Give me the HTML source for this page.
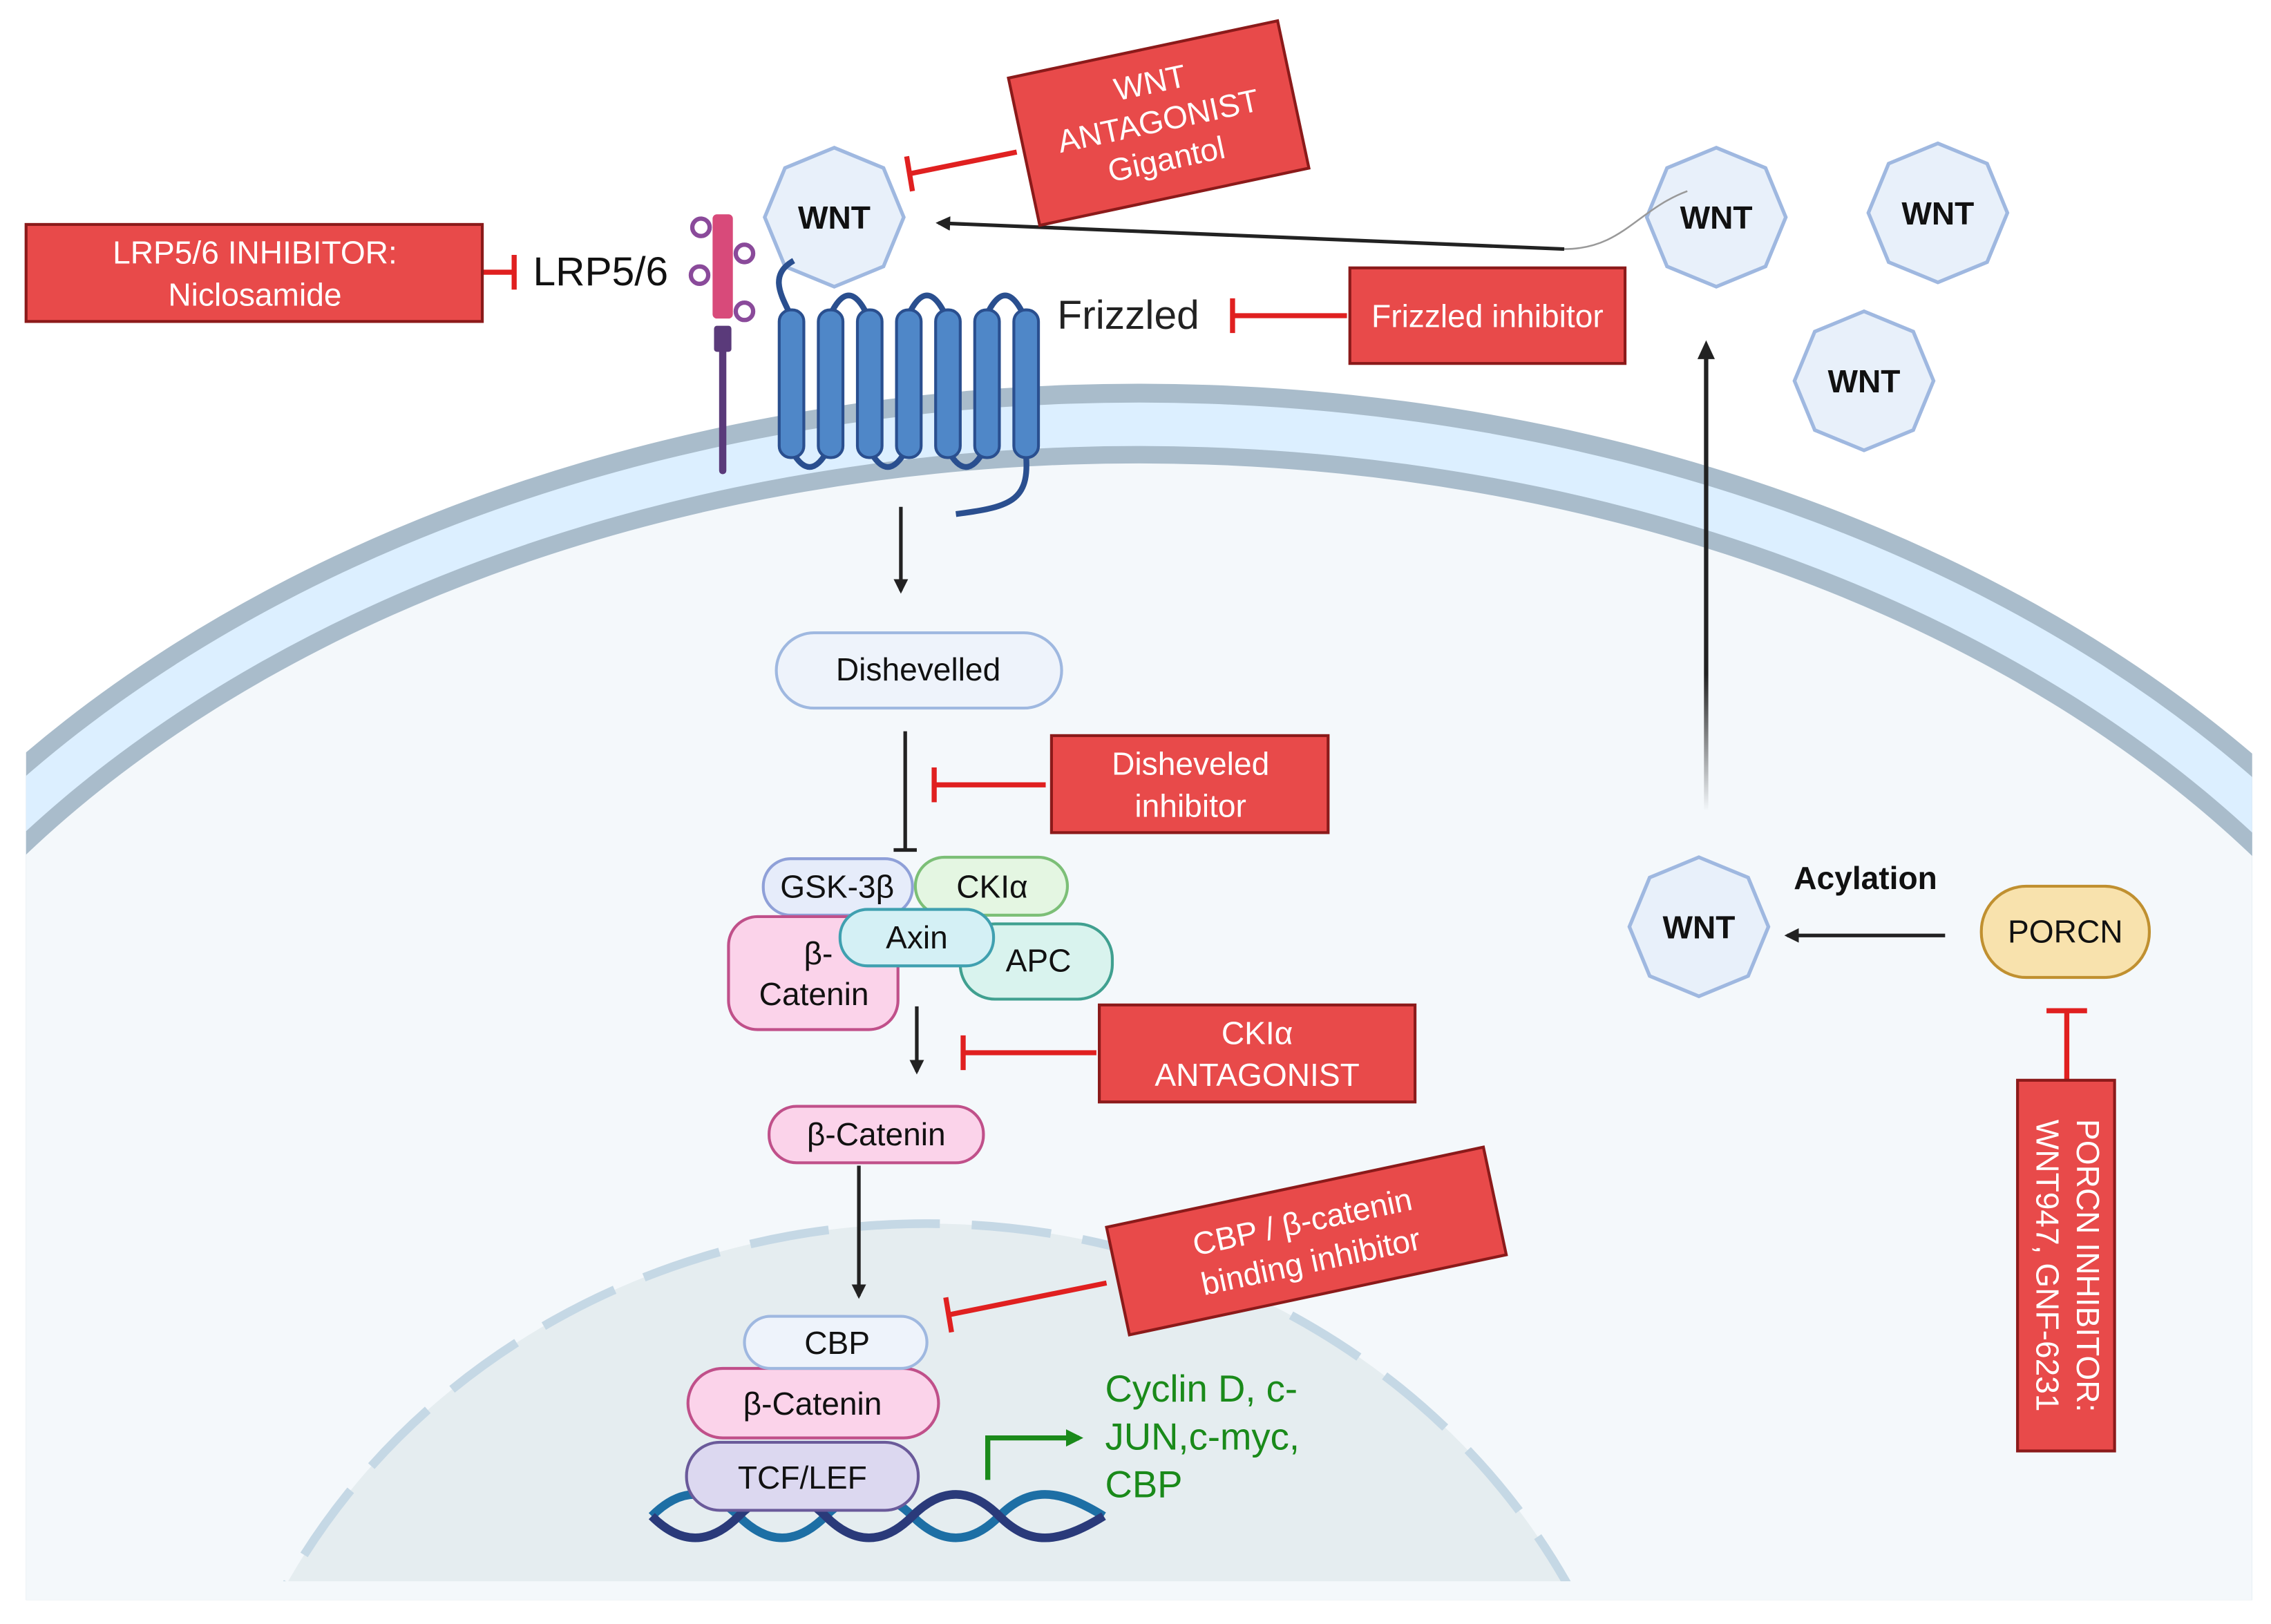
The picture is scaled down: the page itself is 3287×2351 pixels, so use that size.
<!DOCTYPE html>
<html><head><meta charset="utf-8"><style>html,body{margin:0;padding:0;background:#fff;width:3287px;height:2351px;overflow:hidden;position:relative}svg{display:block;position:absolute;left:0;top:0}</style></head>
<body>
<svg width="3287" height="2351" viewBox="0 0 1568 1121.5" preserveAspectRatio="none" xmlns="http://www.w3.org/2000/svg" font-family="Liberation Sans, sans-serif">
<defs>
<clipPath id="c"><rect x="18" y="0" width="1537" height="1105"/></clipPath>
<clipPath id="n"><rect x="0" y="0" width="1568" height="1092"/></clipPath>
<marker id="a" markerWidth="10" markerHeight="10" refX="8" refY="5" orient="auto" markerUnits="userSpaceOnUse"><path d="M0,0 L10,5 L0,10 z" fill="#222"/></marker>
<marker id="g" markerWidth="12" markerHeight="12" refX="9" refY="6" orient="auto" markerUnits="userSpaceOnUse"><path d="M0,0 L12,6 L0,12 z" fill="#1a8a1a"/></marker>
<linearGradient id="up" x1="0" y1="1" x2="0" y2="0"><stop offset="0" stop-color="#222" stop-opacity="0"/><stop offset="0.3" stop-color="#222"/></linearGradient>
</defs>
<rect width="1568" height="1121.5" fill="#fff"/>
<g clip-path="url(#c)">
<ellipse cx="786" cy="973" rx="1000" ry="708" fill="#a9bccb"/>
<ellipse cx="786" cy="973" rx="988" ry="695" fill="#dcefff"/>
<ellipse cx="786" cy="973" rx="960" ry="665" fill="#a9bccb"/>
<ellipse cx="786" cy="973" rx="948" ry="653" fill="#f4f8fb"/>
</g>
<g clip-path="url(#n)">
<ellipse cx="640" cy="1312" rx="500" ry="467" fill="#e5edf0" stroke="#c5d8e5" stroke-width="6" stroke-dasharray="55 22"/>
</g>
<g fill="#e8f0fa" stroke="#9fb8e0" stroke-width="2.5">
<polygon points="0,-48 34,-34 48,0 34,34 0,48 -34,34 -48,0 -34,-34" transform="translate(576,150)"/>
<polygon points="0,-48 34,-34 48,0 34,34 0,48 -34,34 -48,0 -34,-34" transform="translate(1185,150)"/>
<polygon points="0,-48 34,-34 48,0 34,34 0,48 -34,34 -48,0 -34,-34" transform="translate(1338,147)"/>
<polygon points="0,-48 34,-34 48,0 34,34 0,48 -34,34 -48,0 -34,-34" transform="translate(1287,263)"/>
<polygon points="0,-48 34,-34 48,0 34,34 0,48 -34,34 -48,0 -34,-34" transform="translate(1173,640)"/>
</g>
<g font-weight="bold" font-size="22" text-anchor="middle" fill="#111">
<text x="576" y="158">WNT</text><text x="1185" y="158">WNT</text><text x="1338" y="155">WNT</text><text x="1287" y="271">WNT</text><text x="1173" y="648">WNT</text>
<text x="1288" y="614">Acylation</text>
</g>
<path d="M1165,132 C1130,145 1120,172 1080,172" stroke="#999" stroke-width="1.2" fill="none"/>
<path d="M1080,172 L648,154" stroke="#222" stroke-width="2.5" fill="none" marker-end="url(#a)"/>
<rect x="1176.5" y="245" width="3" height="315" fill="url(#up)"/>
<path d="M1172,248 L1178,235 L1184,248 z" fill="#222"/>
<g stroke="#222" stroke-width="2.5" fill="none" marker-end="url(#a)">
<path d="M1343,646 L1234,646"/>
<path d="M622,350 L622,408"/>
<path d="M633,695 L633,740"/>
<path d="M593,805 L593,895"/>
</g>
<path d="M625,505 L625,587 M617,587 L633,587" stroke="#222" stroke-width="2.5"/>
<g stroke="#e02020" stroke-width="3.5" fill="none">
<path d="M333,188 L355,188 M355,176 L355,200"/>
<path d="M702,105 L628,120 M626,108 L630,132"/>
<path d="M930,218 L851,218 M851,206 L851,230"/>
<path d="M722,542 L645,542 M645,530 L645,554"/>
<path d="M757,727 L665,727 M665,715 L665,739"/>
<path d="M764,886 L655,908 M653,896 L657,920"/>
<path d="M1427,746 L1427,698 M1413,698 L1441,698"/>
</g>
<g fill="#e84a4a" stroke="#8b1a1a" stroke-width="2">
<rect x="18" y="155" width="315" height="67"/>
<rect x="932" y="185" width="190" height="66"/>
<rect x="726" y="508" width="191" height="67"/>
<rect x="759" y="694" width="218" height="67"/>
<rect x="1393" y="746" width="67" height="256"/>
<rect x="-95" y="-52" width="190" height="104" transform="translate(800,85) rotate(-12)"/>
<rect x="-133" y="-38" width="266" height="76" transform="translate(902,857) rotate(-12)"/>
</g>
<g fill="#fff" font-size="22" text-anchor="middle">
<text x="176" y="182">LRP5/6 INHIBITOR:</text><text x="176" y="211">Niclosamide</text>
<text x="1027" y="226">Frizzled inhibitor</text>
<text x="822" y="535">Disheveled</text><text x="822" y="564">inhibitor</text>
<text x="868" y="721">CKIα</text><text x="868" y="750">ANTAGONIST</text>
<g transform="translate(800,85) rotate(-12)"><text y="-21">WNT</text><text y="6">ANTAGONIST</text><text y="33">Gigantol</text></g>
<g transform="translate(902,857) rotate(-12)"><text y="-6">CBP / β-catenin</text><text y="22">binding inhibitor</text></g>
<g transform="translate(1427,874) rotate(90)"><text y="-7">PORCN INHIBITOR:</text><text y="21">WNT947, GNF-6231</text></g>
</g>
<text x="368" y="197" font-size="28" fill="#111">LRP5/6</text>
<text x="730" y="227" font-size="28" fill="#222">Frizzled</text>
<line x1="499" y1="230" x2="499" y2="325" stroke="#5a3a7a" stroke-width="5" stroke-linecap="round"/>
<rect x="492" y="148" width="14" height="72" rx="3" fill="#d84a7a"/>
<rect x="493" y="225" width="12" height="18" rx="2" fill="#5a3a7a"/>
<g fill="none" stroke="#8a4a9a" stroke-width="3">
<circle cx="484" cy="157" r="6"/><circle cx="483" cy="190" r="6"/><circle cx="514" cy="175" r="6"/><circle cx="514" cy="215" r="6"/>
</g>
<path d="M548,180 C530,190 540,205 546,218" stroke="#2a4f8f" stroke-width="4" fill="none"/>
<g stroke="#2a4f8f" stroke-width="4" fill="none">
<path d="M546,310 Q559,335 572,310"/><path d="M600,310 Q613,335 626,310"/><path d="M654,310 Q667,335 680,310"/>
<path d="M573,218 Q586,190 599,218"/><path d="M627,218 Q640,190 653,218"/><path d="M681,218 Q694,190 707,218"/>
<path d="M708,310 C712,345 700,350 660,355"/>
</g>
<g fill="#4f87c8" stroke="#2a4f8f" stroke-width="2">
<rect x="538" y="214" width="17" height="102" rx="8"/><rect x="565" y="214" width="17" height="102" rx="8"/>
<rect x="592" y="214" width="17" height="102" rx="8"/><rect x="619" y="214" width="17" height="102" rx="8"/>
<rect x="646" y="214" width="17" height="102" rx="8"/><rect x="673" y="214" width="17" height="102" rx="8"/>
<rect x="700" y="214" width="17" height="102" rx="8"/>
</g>
<path d="M450,1047 C470,1027 490,1027 510,1047 S550,1067 570,1047 S610,1027 630,1047 S670,1067 690,1047 S730,1027 762,1047" stroke="#1d6fa5" stroke-width="6" fill="none"/>
<path d="M450,1047 C470,1067 490,1067 510,1047 S550,1027 570,1047 S610,1067 630,1047 S670,1027 690,1047 S730,1067 762,1047" stroke="#2a3a7a" stroke-width="6" fill="none"/>
<g stroke-width="2">
<rect x="536" y="437" width="197" height="52" rx="26" fill="#eef3fb" stroke="#9fb8e0"/>
<rect x="527" y="593" width="103" height="39" rx="19" fill="#e6ecfa" stroke="#8fa0d8"/>
<rect x="632" y="592" width="105" height="40" rx="20" fill="#e4f6e2" stroke="#7cbf77"/>
<rect x="503" y="633" width="117" height="78" rx="20" fill="#fbd3ea" stroke="#c0508a"/>
<rect x="663" y="638" width="105" height="52" rx="24" fill="#d9f3ee" stroke="#40a090"/>
<rect x="580" y="628" width="106" height="39" rx="19" fill="#d4f0f5" stroke="#40a0b0"/>
<rect x="531" y="764" width="148" height="39" rx="19" fill="#fbd3ea" stroke="#c0508a"/>
<rect x="474" y="996" width="160" height="47" rx="23" fill="#dcd8f0" stroke="#6a5a9a"/>
<rect x="475" y="945" width="173" height="48" rx="24" fill="#fbd3ea" stroke="#c0508a"/>
<rect x="514" y="909" width="126" height="36" rx="18" fill="#eef3fb" stroke="#9fb8e0"/>
<rect x="1368" y="612" width="116" height="63" rx="31" fill="#f8e2ad" stroke="#c09030"/>
</g>
<g font-size="22" text-anchor="middle" fill="#111">
<text x="634" y="470">Dishevelled</text>
<text x="578" y="620">GSK-3β</text>
<text x="685" y="620">CKIα</text>
<text x="565" y="666">β-</text><text x="562" y="694">Catenin</text>
<text x="717" y="671">APC</text>
<text x="633" y="655">Axin</text>
<text x="605" y="791">β-Catenin</text>
<text x="578" y="935">CBP</text>
<text x="561" y="977">β-Catenin</text>
<text x="554" y="1028">TCF/LEF</text>
<text x="1426" y="651">PORCN</text>
</g>
<path d="M682,1022 L682,993 L745,993" stroke="#1a8a1a" stroke-width="3.5" fill="none" marker-end="url(#g)"/>
<g font-size="26" fill="#1a8a1a">
<text x="763" y="968">Cyclin D, c-</text><text x="763" y="1001">JUN,c-myc,</text><text x="763" y="1034">CBP</text>
</g>
</svg>
</body></html>
